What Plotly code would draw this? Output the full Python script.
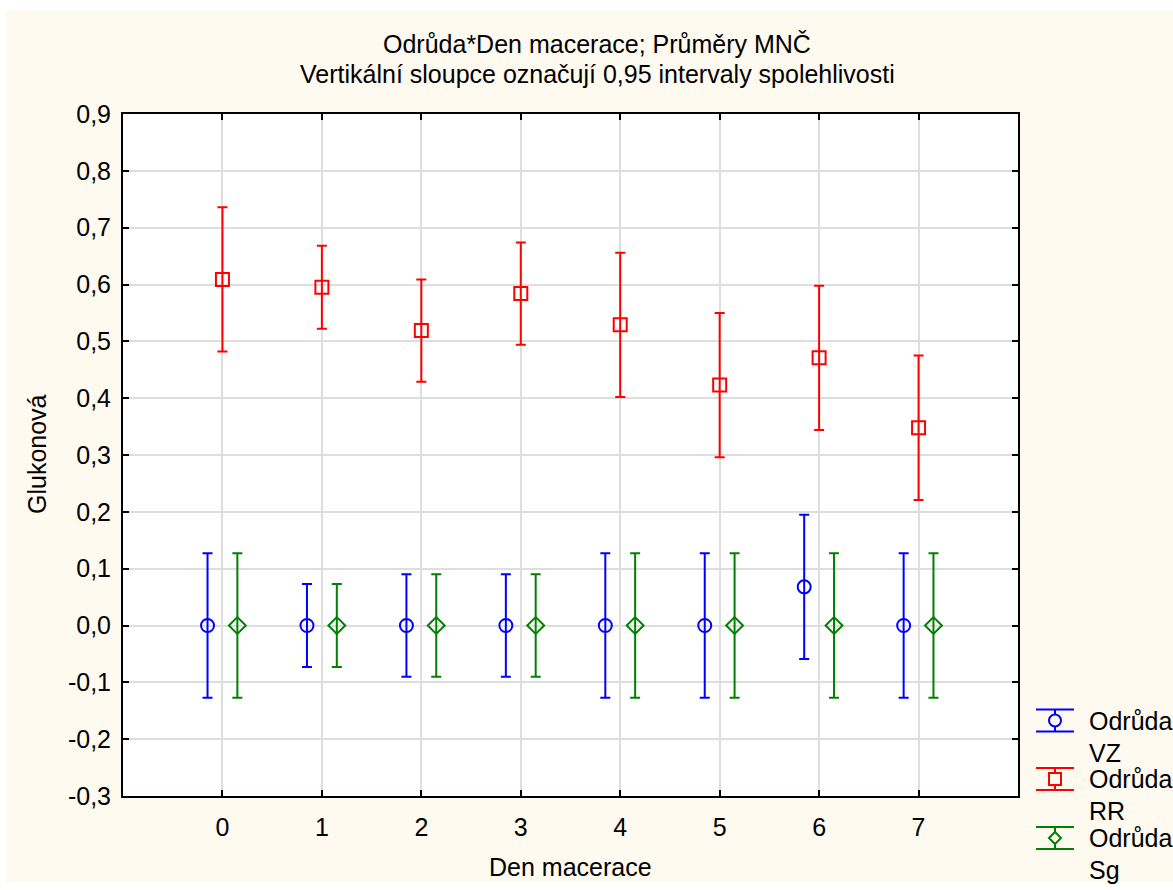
import plotly.graph_objects as go

# Den macerace (days) and least-squares means of Glukonová per variety
days = [0, 1, 2, 3, 4, 5, 6, 7]
vz_mean = [0.0, 0.0, 0.0, 0.0, 0.0, 0.0, 0.068, 0.0]
rr_mean = [0.609, 0.595, 0.519, 0.584, 0.529, 0.423, 0.471, 0.348]
sg_mean = [0.0, 0.0, 0.0, 0.0, 0.0, 0.0, 0.0, 0.0]

# half-widths of the 0.95 confidence intervals
vz_ci = [0.127, 0.073, 0.090, 0.090, 0.127, 0.127, 0.127, 0.127]
rr_ci = [0.127, 0.073, 0.090, 0.090, 0.127, 0.127, 0.127, 0.127]
sg_ci = [0.127, 0.073, 0.090, 0.090, 0.127, 0.127, 0.127, 0.127]

variety_names = ["VZ", "RR", "Sg"]
y_tick_vals = [-0.3, -0.2, -0.1, 0.0, 0.1, 0.2, 0.3, 0.4, 0.5, 0.6, 0.7, 0.8, 0.9]
y_tick_text = ["-0,3", "-0,2", "-0,1", "0,0", "0,1", "0,2", "0,3", "0,4",
               "0,5", "0,6", "0,7", "0,8", "0,9"]

title_lines = ["Odrůda*Den macerace; Průměry MNČ",
               "Vertikální sloupce označují 0,95 intervaly spolehlivosti"]

FONT = "Liberation Sans, Arial, sans-serif"
FS = 25
CREAM = "#FEFAF0"

W, H = 1173, 890
L, R, T, B = 123, 1018, 114, 796   # plot area in pixels


def px(xp):
    return (xp - L) / (R - L)


def py(yp):
    return (B - yp) / (B - T)


series = [
    ("VZ", vz_mean, vz_ci, "#0000FF", "circle-open", -0.15),
    ("RR", rr_mean, rr_ci, "#FF0000", "square-open", 0.0),
    ("Sg", sg_mean, sg_ci, "#008000", "diamond-open", 0.15),
]

fig = go.Figure()
for name, mean, ci, color, symbol, dx in series:
    fig.add_trace(go.Scatter(
        x=[d + dx for d in days],
        y=mean,
        mode="markers",
        name="Odrůda " + name,
        marker=dict(symbol=symbol, size=13, color=color,
                    line=dict(width=2, color=color)),
        error_y=dict(type="data", array=ci, visible=True,
                     color=color, thickness=2, width=5),
        showlegend=False,
        cliponaxis=False,
    ))

shapes = []
annotations = []

# white frame strips around the cream panel
for x0, y0, x1, y1 in [(0, 0, W, 10), (0, 0, 6, H), (0, 882, W, H)]:
    shapes.append(dict(type="rect", xref="paper", yref="paper",
                       x0=px(x0), x1=px(x1), y0=py(y0), y1=py(y1),
                       fillcolor="white", line=dict(width=0), layer="below"))

# title
for yy, txt in zip([44, 74], title_lines):
    annotations.append(dict(text=txt, xref="paper", yref="paper",
                            x=px(597), y=py(yy), xanchor="center", yanchor="middle",
                            showarrow=False, font=dict(family=FONT, size=FS, color="black")))

# axis titles
annotations.append(dict(text="Den macerace", xref="paper", yref="paper",
                        x=px(570), y=py(867), xanchor="center", yanchor="middle",
                        showarrow=False, font=dict(family=FONT, size=FS, color="black")))
annotations.append(dict(text="Glukonová", xref="paper", yref="paper",
                        x=px(37), y=py(454), xanchor="center", yanchor="middle",
                        textangle=-90, showarrow=False,
                        font=dict(family=FONT, size=FS, color="black")))

# legend drawn as error-bar glyphs with two-line labels
leg_centers = [720.5, 779, 838]
cx = 1055
for (name, mean, ci, color, symbol, dx), cy in zip(series, leg_centers):
    for yy in (cy - 11, cy + 11):
        shapes.append(dict(type="line", xref="paper", yref="paper",
                           x0=px(1036), x1=px(1074), y0=py(yy), y1=py(yy),
                           line=dict(color=color, width=2)))
    shapes.append(dict(type="line", xref="paper", yref="paper",
                       x0=px(cx), x1=px(cx), y0=py(cy - 11), y1=py(cy + 11),
                       line=dict(color=color, width=2)))
    r = 6
    if symbol.startswith("circle"):
        shapes.append(dict(type="circle", xref="paper", yref="paper",
                           x0=px(cx - r), x1=px(cx + r), y0=py(cy - r), y1=py(cy + r),
                           fillcolor=CREAM, line=dict(color=color, width=2)))
    elif symbol.startswith("square"):
        shapes.append(dict(type="rect", xref="paper", yref="paper",
                           x0=px(cx - r), x1=px(cx + r), y0=py(cy - r), y1=py(cy + r),
                           fillcolor=CREAM, line=dict(color=color, width=2)))
    else:
        path = "M {} {} L {} {} L {} {} L {} {} Z".format(
            px(cx - r), py(cy), px(cx), py(cy - r), px(cx + r), py(cy), px(cx), py(cy + r))
        shapes.append(dict(type="path", xref="paper", yref="paper", path=path,
                           fillcolor=CREAM, line=dict(color=color, width=2)))
    for yy, txt in ((cy, "Odrůda"), (cy + 32, name)):
        annotations.append(dict(text=txt, xref="paper", yref="paper",
                                x=px(1087), y=py(yy), xanchor="left", yanchor="middle",
                                showarrow=False,
                                font=dict(family=FONT, size=FS, color="black")))

axis_common = dict(
    showline=True, linecolor="black", linewidth=2, mirror="ticks",
    ticks="inside", ticklen=6, tickwidth=2, tickcolor="black",
    showgrid=True, gridcolor="#DEDEDE", gridwidth=1.5,
    zeroline=False,
    tickfont=dict(family=FONT, size=FS, color="black"),
)

fig.update_layout(
    width=W, height=H,
    margin=dict(l=L, r=W - R, t=T, b=H - B, pad=0),
    paper_bgcolor=CREAM,
    plot_bgcolor="white",
    showlegend=False,
    shapes=shapes,
    annotations=annotations,
    xaxis=dict(range=[-1, 8], tickvals=days, ticktext=[str(d) for d in days],
               ticklabelstandoff=8, **axis_common),
    yaxis=dict(range=[-0.3, 0.9], tickvals=y_tick_vals, ticktext=y_tick_text,
               ticklabelstandoff=5, **axis_common),
    font=dict(family=FONT, size=FS, color="black"),
)

fig.write_html("out.html")
